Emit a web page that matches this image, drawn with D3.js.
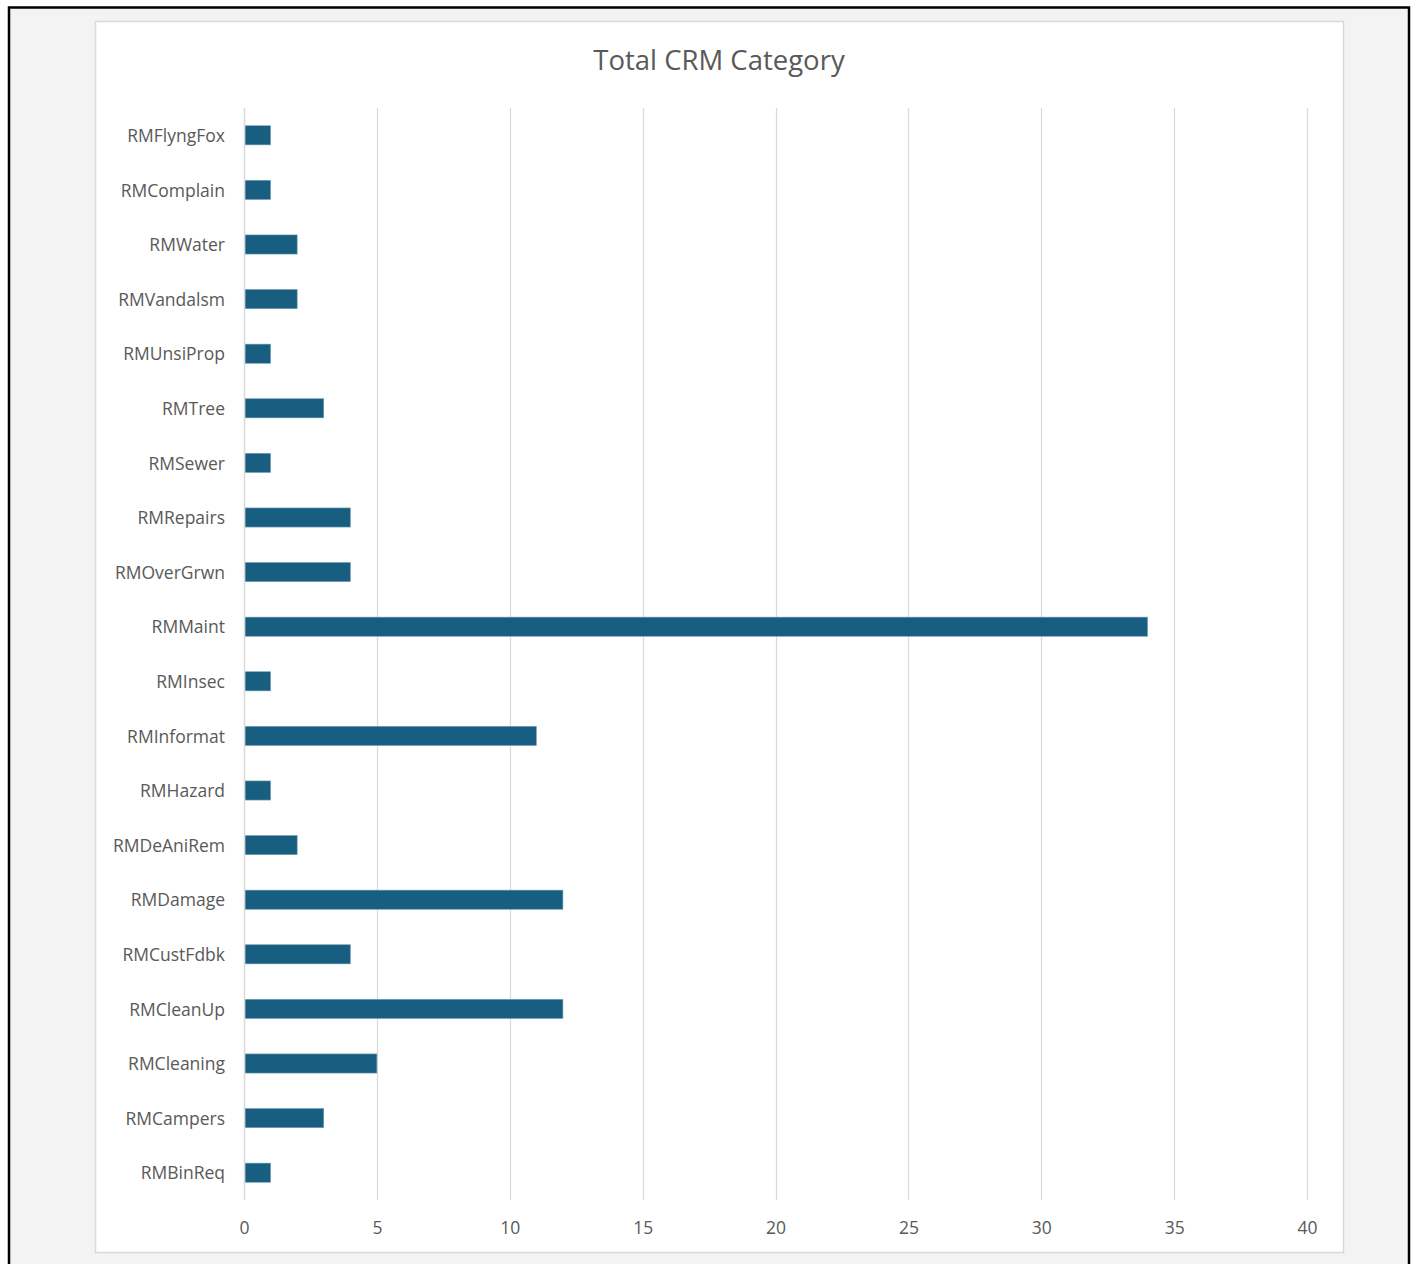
<!DOCTYPE html>
<html>
<head>
<meta charset="utf-8">
<script src="https://cdn.jsdelivr.net/npm/d3@7"></script>
<style>
  html, body { margin: 0; padding: 0; background: #ffffff; }
  svg { display: block; }
</style>
</head>
<body>
<svg id="chart" width="1418" height="1264"></svg>
<script>
// CRM request counts per category, listed top to bottom
const categories = ["RMFlyngFox","RMComplain","RMWater","RMVandalsm","RMUnsiProp","RMTree","RMSewer","RMRepairs","RMOverGrwn","RMMaint","RMInsec","RMInformat","RMHazard","RMDeAniRem","RMDamage","RMCustFdbk","RMCleanUp","RMCleaning","RMCampers","RMBinReq"];
const counts = [1,1,2,2,1,3,1,4,4,34,1,11,1,2,12,4,12,5,3,1];
const xTicks = [0,5,10,15,20,25,30,35,40];
const chartTitle = "Total CRM Category";

const svg = d3.select("#chart");
const font = "'Open Sans', 'Noto Sans', sans-serif";
const textColor = "#595959";

// page backdrop and frame
svg.append("rect").attr("x", 0).attr("y", 0).attr("width", 1418).attr("height", 1264).attr("fill", "#ffffff");
svg.append("rect").attr("x", 9).attr("y", 7.5).attr("width", 1400).attr("height", 1270)
  .attr("fill", "#f3f3f3").attr("stroke", "#000000").attr("stroke-width", 2.5);

// chart area
svg.append("rect").attr("x", 95.5).attr("y", 21.5).attr("width", 1248).attr("height", 1231)
  .attr("fill", "#ffffff").attr("stroke", "#d9d9d9").attr("stroke-width", 1.5);

const x = d3.scaleLinear().domain([0, 40]).range([244, 1307]);
const y = d3.scaleBand().domain(categories).range([108, 1200]).paddingInner(0.65).paddingOuter(0.325);

// vertical gridlines
svg.append("g").selectAll("line").data(xTicks.slice(1)).join("line")
  .attr("x1", d => Math.round(x(d)) + 0.5).attr("x2", d => Math.round(x(d)) + 0.5)
  .attr("y1", 108).attr("y2", 1200)
  .attr("stroke", "#d9d9d9").attr("stroke-width", 1.2);

// bars
svg.append("g").selectAll("rect").data(categories).join("rect")
  .attr("x", x(0) + 1)
  .attr("y", d => y(d))
  .attr("width", (d, i) => x(counts[i]) - x(0) - 1)
  .attr("height", y.bandwidth())
  .attr("fill", "#185e81")
  .attr("stroke", "#6f9bb3").attr("stroke-width", 0.6);

// category axis line
svg.append("line").attr("x1", 244.5).attr("x2", 244.5).attr("y1", 108).attr("y2", 1200)
  .attr("stroke", "#d9d9d9").attr("stroke-width", 1.5);

// category labels
const yAxis = svg.append("g").attr("transform", "translate(225,1)")
  .call(d3.axisLeft(y).tickSize(0).tickPadding(0));
yAxis.select(".domain").remove();
yAxis.selectAll("text")
  .attr("fill", textColor).style("font-family", font).style("font-size", "17.5px");

// value axis labels
const xAxis = svg.append("g").attr("transform", "translate(0,1222)")
  .call(d3.axisBottom(x).tickValues(xTicks).tickSize(0).tickPadding(0));
xAxis.select(".domain").remove();
xAxis.selectAll("text")
  .attr("fill", textColor).style("font-family", font).style("font-size", "17.5px");

// title
svg.append("text").attr("x", 719).attr("y", 70).attr("text-anchor", "middle")
  .attr("fill", textColor).style("font-family", font).style("font-size", "27.5px")
  .text(chartTitle);
</script>
</body>
</html>
